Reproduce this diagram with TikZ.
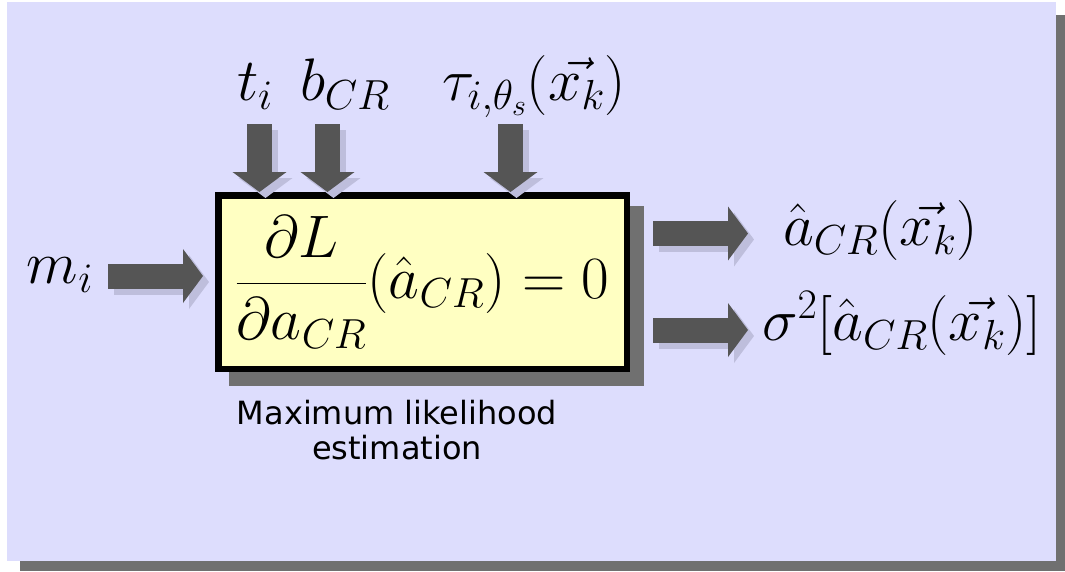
\RequirePackage{fix-cm}
\documentclass[tikz,border=0pt]{standalone}
\usepackage{amsmath}
\usepackage{fontspec}
\newfontfamily\lblfont{DejaVu Sans}
\usetikzlibrary{arrows.meta,shadows,calc}
\definecolor{bgcol}{RGB}{221,221,253}
\definecolor{shadowgray}{RGB}{112,112,112}
\definecolor{boxfill}{RGB}{255,255,194}
\definecolor{arrowgray}{RGB}{85,85,85}
\definecolor{arrowshadowcol}{RGB}{190,190,220}
\tikzset{
  blockarrow/.style={draw=arrowgray, line width=25pt, -{Triangle[length=20pt,width=53pt]}},
  mathlbl/.style={inner sep=0pt, outer sep=0pt, font=\fontsize{60}{70}\selectfont},
  boxstyle/.style={draw=black, line width=6.5pt, fill=boxfill, inner sep=0pt,
    minimum width=408.5pt, minimum height=173.5pt, font=\fontsize{60}{70}\selectfont,
    drop shadow={shadow xshift=14pt, shadow yshift=-14pt, fill=shadowgray, draw=shadowgray, line width=6.5pt, opacity=1}},
  caption/.style={inner sep=0pt, align=center, font=\lblfont\fontsize{32}{35}\selectfont},
  arrowshadow/.style={draw=arrowshadowcol}
}
\newcommand\allarrows[1]{%
  \draw[blockarrow,#1] (ct) -- (ct |- box.north);
  \draw[blockarrow,#1] (cb) -- (cb |- box.north);
  \draw[blockarrow,#1] (ctau) -- (ctau |- box.north);
  \draw[blockarrow,#1,shorten >=12pt] (cm) -- (cm -| box.west);
  \draw[blockarrow,#1,shorten >=35pt] (co1) -- (co1 -| outa.west);
  \draw[blockarrow,#1,shorten >=14pt] (co2) -- (co2 -| outs.west);
}
\begin{document}
\begin{tikzpicture}[x=1pt,y=-1pt]
\useasboundingbox (0,0) rectangle (1065,571);
% slide background and its shadow
\fill[shadowgray] (20,15) rectangle (1065,571);
\fill[bgcol] (7,2) rectangle (1056,561);
% main box
\node[boxstyle] (box) at (422.5,282) {$\displaystyle\frac{\partial L}{\partial a_{CR}}(\hat{a}_{CR}) = 0$};
% labels
\node[mathlbl, anchor=base west] (lt) at (237,100) {$t_i$};
\node[mathlbl, anchor=base west] (lb) at (300,100) {$b_{CR}$};
\node[mathlbl, anchor=base west] (ltau) at (442,100) {$\tau_{i,\theta_s}(\vec{x_k})$};
\node[mathlbl, anchor=base west] (lm) at (27,283) {$m_i$};
\node[mathlbl, anchor=base west] (outa) at (783,245) {$\hat{a}_{CR}(\vec{x_k})$};
\node[mathlbl, anchor=base west] (outs) at (762,340) {$\sigma^2[\hat{a}_{CR}(\vec{x_k})]$};
\node[caption] (cap) at (397,430) {Maximum likelihood\\estimation};
% arrow start points
\coordinate (ct) at (259.5,124);
\coordinate (cb) at (327.5,124);
\coordinate (ctau) at (510.5,124);
\coordinate (cm) at (108,276);
\coordinate (co1) at (653,233.5);
\coordinate (co2) at (653,330);
% arrow shadows, then arrows
\begin{scope}[transform canvas={xshift=6pt,yshift=-6pt}]
  \allarrows{arrowshadow}
\end{scope}
\allarrows{}
\end{tikzpicture}
\end{document}
